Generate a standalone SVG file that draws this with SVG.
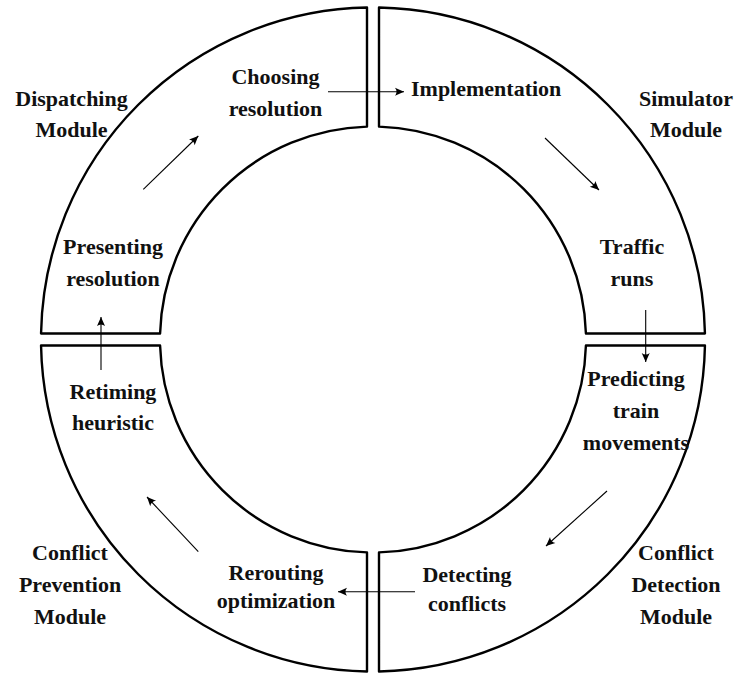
<svg xmlns="http://www.w3.org/2000/svg" width="735" height="674" viewBox="0 0 735 674">
  <defs>
    <!-- concave arrowhead used by every connector -->
    <marker id="arrow" viewBox="-10 -5 11 10" refX="0" refY="0" markerWidth="11" markerHeight="10" markerUnits="userSpaceOnUse" orient="auto">
      <path d="M0,0 L-9,-4 Q-6,0 -9,4 Z" fill="#000"/>
    </marker>
  </defs>
  <style>
    .seg { fill: none; stroke: #000; stroke-width: 2.4; stroke-linejoin: round; }
    .lbl { font-size: 22px; font-weight: bold; text-anchor: middle; fill: #111; }
    .start { text-anchor: start; }
    .conn line { stroke: #000; stroke-width: 1.1; marker-end: url(#arrow); }
  </style>
  <rect width="735" height="674" fill="#fff"/>

  <g font-family="'Liberation Serif', 'DejaVu Serif', serif">
  <!-- ring quadrants, centre (373,339.5), radii 332 / 213 -->
  <g id="dispatching-module">
    <path class="seg" d="M367,7.55 A332,332 0 0 0 41.05,333.5 L160.08,333.5 A213,213 0 0 1 367,126.58 Z"/>
    <text class="lbl" x="71.5" y="106">Dispatching</text>
    <text class="lbl" x="71.5" y="137">Module</text>
  </g>
  <g id="simulator-module">
    <path class="seg" d="M379,7.55 A332,332 0 0 1 704.95,333.5 L585.92,333.5 A213,213 0 0 0 379,126.58 Z"/>
    <text class="lbl" x="686" y="106">Simulator</text>
    <text class="lbl" x="686" y="137">Module</text>
  </g>
  <g id="conflict-detection-module">
    <path class="seg" d="M379,671.45 A332,332 0 0 0 704.95,345.5 L585.92,345.5 A213,213 0 0 1 379,552.42 Z"/>
    <text class="lbl" x="676" y="560">Conflict</text>
    <text class="lbl" x="676" y="592">Detection</text>
    <text class="lbl" x="676" y="624">Module</text>
  </g>
  <g id="conflict-prevention-module">
    <path class="seg" d="M367,671.45 A332,332 0 0 1 41.05,345.5 L160.08,345.5 A213,213 0 0 0 367,552.42 Z"/>
    <text class="lbl" x="70" y="560">Conflict</text>
    <text class="lbl" x="70" y="592">Prevention</text>
    <text class="lbl" x="70" y="624">Module</text>
  </g>

  <!-- process steps -->
  <g id="choosing-resolution">
    <text class="lbl" x="275.5" y="84">Choosing</text>
    <text class="lbl" x="275.5" y="116">resolution</text>
  </g>
  <g id="implementation">
    <text class="lbl start" x="411" y="96">Implementation</text>
  </g>
  <g id="traffic-runs">
    <text class="lbl" x="632" y="254">Traffic</text>
    <text class="lbl" x="632" y="286">runs</text>
  </g>
  <g id="predicting-train-movements">
    <text class="lbl" x="636" y="386">Predicting</text>
    <text class="lbl" x="636" y="418">train</text>
    <text class="lbl" x="636" y="450">movements</text>
  </g>
  <g id="detecting-conflicts">
    <text class="lbl" x="467" y="582">Detecting</text>
    <text class="lbl" x="467" y="611">conflicts</text>
  </g>
  <g id="rerouting-optimization">
    <text class="lbl" x="276" y="580">Rerouting</text>
    <text class="lbl" x="276" y="608">optimization</text>
  </g>
  <g id="retiming-heuristic">
    <text class="lbl" x="113" y="399">Retiming</text>
    <text class="lbl" x="113" y="430">heuristic</text>
  </g>
  <g id="presenting-resolution">
    <text class="lbl" x="113" y="254">Presenting</text>
    <text class="lbl" x="113" y="286">resolution</text>
  </g>
  </g>

  <!-- connectors -->
  <g id="connectors" class="conn">
    <line x1="328" y1="91.7" x2="404" y2="91.7"/>
    <line x1="545" y1="138" x2="599" y2="190"/>
    <line x1="645.7" y1="310" x2="645.7" y2="362"/>
    <line x1="607" y1="491" x2="546" y2="546"/>
    <line x1="415" y1="591.7" x2="338" y2="591.7"/>
    <line x1="198.3" y1="551.7" x2="147" y2="497"/>
    <line x1="101" y1="370" x2="101" y2="317"/>
    <line x1="143.3" y1="189.3" x2="198.3" y2="136"/>
  </g>
</svg>
